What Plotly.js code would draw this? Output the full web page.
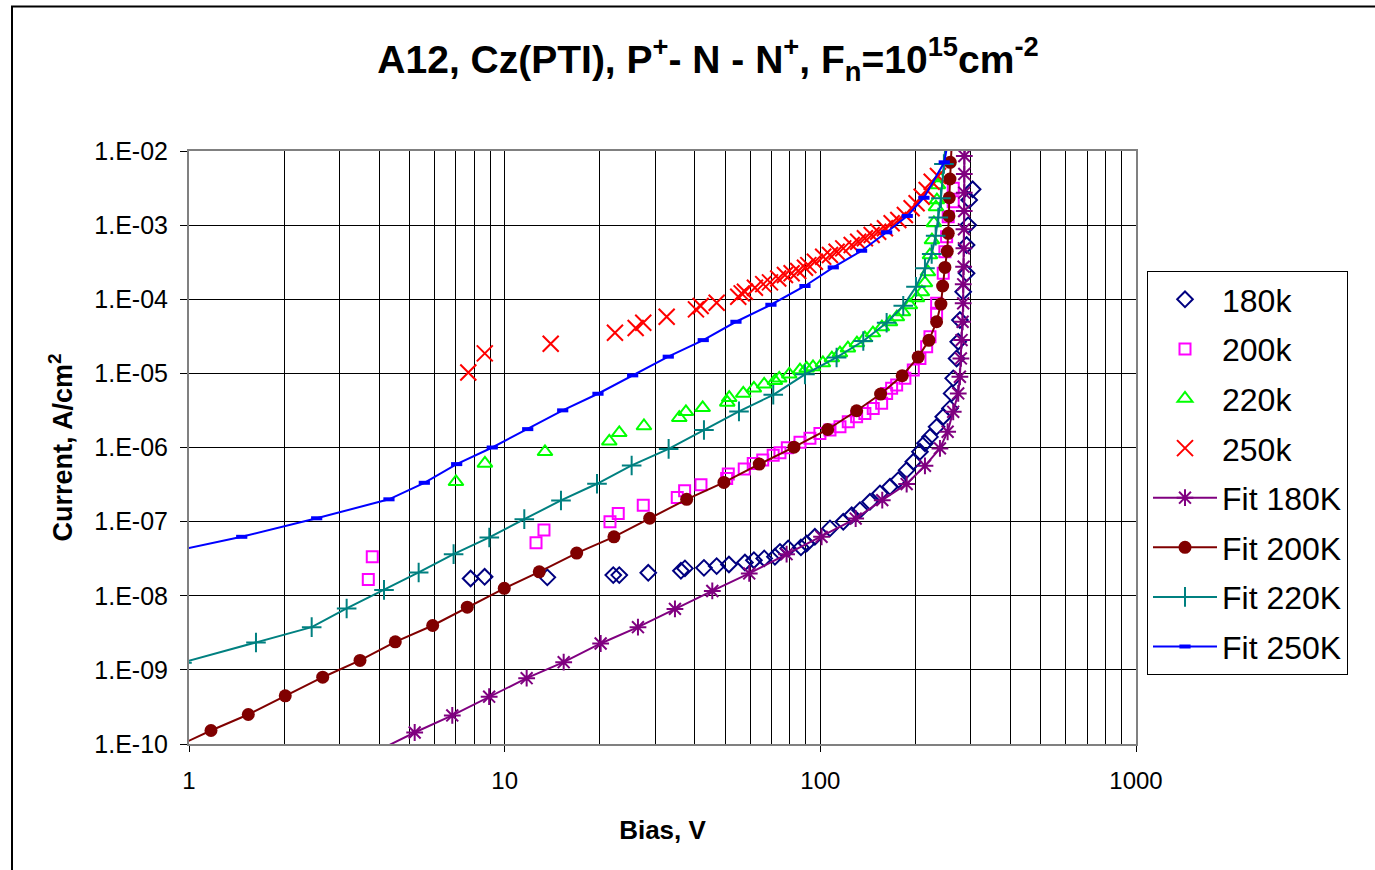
<!DOCTYPE html>
<html>
<head>
<meta charset="utf-8">
<script src="https://cdn.plot.ly/plotly-3.0.1.min.js"></script>
<style>html,body{margin:0;padding:0;background:#fff;}#chart{width:1375px;height:870px;}</style>
</head>
<body>
<div id="chart"></div>
<script>
// ---- measured data: 180k (diamonds) ----
const v180 = [7.80,8.64,13.65,22.08,23.07,28.5,36.17,37.25,42.79,46.94,51.35,57.7,61.6,66.4,71.8,74.5,79.1,86.8,90.5,96.1,107.3,118.2,125.7,133.5,143.6,154.5,166.2,176.6,187.7,197.0,206.8,214.5,222.5,233.5,245.1,257.4,260.6,263.6,270.2,273.4,276.8,283.5,290.6,290.6,294.1,296.2,303.7];
const i180 = [1.71e-8,1.80e-8,1.77e-8,1.90e-8,1.90e-8,2.04e-8,2.17e-8,2.34e-8,2.38e-8,2.51e-8,2.64e-8,2.81e-8,3.02e-8,3.19e-8,3.35e-8,3.91e-8,4.35e-8,4.49e-8,5.08e-8,6.24e-8,8.1e-8,9.94e-8,1.22e-7,1.43e-7,1.85e-7,2.40e-7,2.95e-7,3.63e-7,4.95e-7,6.41e-7,8.75e-7,1.14e-6,1.39e-6,1.90e-6,2.60e-6,3.37e-6,5.37e-6,8.57e-6,1.59e-5,2.67e-5,5.24e-5,1.26e-4,2.24e-4,5.39e-4,1.0e-3,2.18e-3,3.04e-3];

// ---- 200k (squares) ----
const v200 = [3.698,3.807,12.57,13.32,21.56,22.9,27.48,35.22,37.16,41.87,50.5,51.1,57.4,61.3,65.7,70.9,74.5,78.6,86.2,92.7,99.7,107.3,115.4,122.6,130.3,138.4,147.1,156.4,162.2,168.2,174.5,185.3,197.0,206.8,217.2,222.5,233.5,233.6,245.1,248.1,251.2,254.2,263.6,263.7];
const i200 = [1.66e-8,3.35e-8,5.18e-8,7.68e-8,9.94e-8,1.29e-7,1.66e-7,2.12e-7,2.61e-7,3.14e-7,3.83e-7,4.38e-7,5.11e-7,6.10e-7,6.76e-7,7.89e-7,8.48e-7,9.91e-7,1.18e-6,1.33e-6,1.55e-6,1.72e-6,1.90e-6,2.22e-6,2.60e-6,2.88e-6,3.37e-6,3.94e-6,5.37e-6,6.28e-6,6.95e-6,8.57e-6,1.11e-5,1.59e-5,2.29e-5,3.12e-5,6.45e-5,8.81e-5,2.24e-4,4.38e-4,6.97e-4,1.30e-3,2.07e-3,3.14e-3];

// ---- 220k (triangles) ----
const v220 = [7.01,8.66,13.42,21.45,23.07,27.62,35.74,37.52,42.39,50.72,51.45,57.0,61.6,66.4,71.8,74.1,79.7,86.2,90.5,94.8,101.9,108.8,115.4,122.3,130.6,138.4,146.8,156.7,166.2,174.8,182.7,192.2,202.3,209.8,214.5,219.2,222.5,225.7,229.0,232.4,234.1,235.8,239.3];
const i220 = [3.44e-7,6.10e-7,8.75e-7,1.21e-6,1.58e-6,1.95e-6,2.52e-6,3.03e-6,3.43e-6,4.06e-6,4.69e-6,5.37e-6,6.28e-6,7.11e-6,7.94e-6,8.57e-6,9.7e-6,1.11e-5,1.17e-5,1.22e-5,1.38e-5,1.61e-5,1.88e-5,2.19e-5,2.56e-5,2.99e-5,3.50e-5,4.22e-5,4.92e-5,5.75e-5,6.72e-5,8.35e-5,1.04e-4,1.25e-4,1.66e-4,2.33e-4,3.95e-4,6.29e-4,1.07e-3,1.75e-3,2.18e-3,3.48e-3,4.32e-3];

// ---- 250k (crosses) ----
const v250 = [7.67,8.65,13.99,22.36,26.0,27.48,32.6,40.36,41.77,46.94,54.95,56.33,57.7,62.06,65.94,69.26,73.56,77.25,81.1,85.1,89.4,91.6,96.1,102.1,107.3,112.6,118.2,125.7,131.8,138.4,145.4,152.5,160.2,168.2,176.6,185.3,194.6,201.8,209.4,217.2,225.3,235.8];
const i250 = [1.03e-5,1.86e-5,2.51e-5,3.53e-5,4.09e-5,4.82e-5,5.81e-5,7.31e-5,8.1e-5,8.97e-5,1.08e-4,1.20e-4,1.26e-4,1.43e-4,1.60e-4,1.69e-4,1.91e-4,2.12e-4,2.24e-4,2.40e-4,2.66e-4,2.89e-4,3.21e-4,3.75e-4,3.95e-4,4.38e-4,4.86e-4,5.39e-4,5.97e-4,6.64e-4,7.35e-4,8.15e-4,9.06e-4,1.06e-3,1.17e-3,1.37e-3,1.69e-3,1.97e-3,2.42e-3,2.98e-3,3.85e-3,4.6e-3];

// ---- fit curves ----
const vFit180 = [3.836,5.187,6.824,8.93,11.74,15.38,20.14,26.44,34.63,45.47,59.54,78.19,100.9,129.4,157.1,187.7,214.5,239.3,253.1,263.6,273.4,276.8,278.8,280.2,282.3,283.5,283.6,284.4,285.0,285.1,285.6,285.7,285.8,285.9,289];
const iFit180 = [7.59e-11,1.43e-10,2.43e-10,4.35e-10,7.73e-10,1.27e-9,2.27e-9,3.77e-9,6.65e-9,1.16e-8,2.0e-8,3.64e-8,6.24e-8,1.10e-7,1.95e-7,3.21e-7,5.66e-7,9.73e-7,1.63e-6,3.03e-6,5.37e-6,9.0e-6,1.59e-5,2.81e-5,4.97e-5,8.81e-5,1.59e-4,2.75e-4,4.86e-4,8.77e-4,1.55e-3,2.74e-3,4.89e-3,8.56e-3,1.4e-2];

const vFit200 = [0.95,1.174,1.541,2.018,2.652,3.481,4.503,5.915,7.613,9.97,12.87,16.91,22.19,28.8,37.72,49.5,64.04,82.48,105.5,130.3,155.2,181.7,204.2,220.8,233.5,241.0,244.0,248.1,252.4,254.2,255.5,256.1,257.4,258.0,261];
const iFit200 = [1.0e-10,1.52e-10,2.50e-10,4.46e-10,7.96e-10,1.34e-9,2.39e-9,3.97e-9,7.02e-9,1.26e-8,2.10e-8,3.76e-8,6.24e-8,1.11e-7,2.0e-7,3.38e-7,5.97e-7,1.01e-6,1.75e-6,3.13e-6,5.26e-6,9.29e-6,1.66e-5,2.79e-5,4.97e-5,8.61e-5,1.51e-4,2.69e-4,4.43e-4,7.75e-4,1.33e-3,2.34e-3,4.19e-3,7.04e-3,1.4e-2];

const vFit220 = [0.95,1.630,2.447,3.158,4.147,5.34,6.89,8.94,11.54,15.08,19.61,25.25,33.07,42.79,55.24,70.93,89.39,112.6,136.8,162.2,183.1,200.9,214.5,225.3,231.9,236.4,241.0,246.3,250];
const iFit220 = [1.25e-9,2.34e-9,3.77e-9,6.74e-9,1.20e-8,2.06e-8,3.64e-8,6.12e-8,1.08e-7,1.93e-7,3.24e-7,5.73e-7,9.57e-7,1.72e-6,3.07e-6,5.14e-6,9.7e-6,1.64e-5,2.73e-5,4.82e-5,8.17e-5,1.47e-4,2.61e-4,4.07e-4,7.19e-4,1.27e-3,2.30e-3,6.68e-3,1.4e-2];

const vFit250 = [0.95,1.469,2.538,4.30,5.565,7.046,9.135,11.83,15.27,19.75,25.44,32.98,42.57,54.04,69.74,89.39,109.9,135.1,162.2,188.5,212.9,246.9,258];
const iFit250 = [4.2e-8,6.24e-8,1.11e-7,2.0e-7,3.34e-7,5.97e-7,1.0e-6,1.77e-6,3.17e-6,5.31e-6,9.4e-6,1.68e-5,2.81e-5,4.97e-5,8.43e-5,1.51e-4,2.69e-4,4.51e-4,8.0e-4,1.33e-3,2.34e-3,7.04e-3,2.0e-2];

// ---- axis tick labels ----
const yTickVals = [1e-10,1e-9,1e-8,1e-7,1e-6,1e-5,1e-4,1e-3,1e-2];
const yTickText = ["1.E-10","1.E-09","1.E-08","1.E-07","1.E-06","1.E-05","1.E-04","1.E-03","1.E-02"];
const xTickVals = [1,10,100,1000];
const xTickText = ["1","10","100","1000"];

const minorX = [];
for (let d = 1; d <= 100; d *= 10) for (let k = 2; k <= 9; k++) minorX.push(k * d);

const F = "Arial, 'Liberation Sans', sans-serif";

function pts(name, x, y, marker) {
  return {type:'scatter', mode:'markers', name:name, x:x, y:y, marker:marker, legendgroup:name};
}
function fit(name, x, y, color, marker) {
  return {type:'scatter', mode:'lines+markers', name:name, x:x, y:y,
          line:{color:color, width:2}, marker:marker, legendgroup:name};
}

const traces = [
  pts('180k', v180, i180, {symbol:'diamond-open', size:12, color:'#000080', line:{width:2, color:'#000080'}}),
  pts('200k', v200, i200, {symbol:'square-open', size:11, color:'#FF00FF', line:{width:2, color:'#FF00FF'}}),
  pts('220k', v220, i220, {symbol:'triangle-up-open', size:13, color:'#00FF00', line:{width:2, color:'#00FF00'}}),
  pts('250k', v250, i250, {symbol:'x-thin-open', size:16, color:'#FF0000', line:{width:2, color:'#FF0000'}}),
  fit('Fit 180K', vFit180, iFit180, '#800080', {symbol:'asterisk-open', size:14, color:'#800080', line:{width:2, color:'#800080'}}),
  fit('Fit 200K', vFit200, iFit200, '#800000', {symbol:'circle', size:13, color:'#800000'}),
  fit('Fit 220K', vFit220, iFit220, '#008080', {symbol:'cross-thin-open', size:14, color:'#008080', line:{width:2, color:'#008080'}}),
  fit('Fit 250K', vFit250, iFit250, '#0000FF', {symbol:'line-ew-open', size:8, color:'#0000FF', line:{width:4, color:'#0000FF'}})
];

const L = 189, R = 1136, T = 151, B = 744;
const pw = R - L, ph = B - T;
function px2x(p){ return (p - L) / pw; }
function py2y(p){ return (B - p) / ph; }

const layout = {
  width:1375, height:870,
  margin:{l:L, r:1375-R, t:T, b:870-B, pad:0},
  paper_bgcolor:'#fff', plot_bgcolor:'#fff',
  font:{family:F, color:'#000'},
  showlegend:true,
  title:{text:'<b>A12, Cz(PTI), P<sup>+</sup>- N - N<sup>+</sup>, F<sub>n</sub>=10<sup>15</sup>cm<sup>-2</sup></b>',
         font:{family:F, size:39, color:'#000'}, x:708/1375, xanchor:'center', xref:'container',
         y:1-59/870, yanchor:'middle', yref:'container'},
  xaxis:{type:'log', range:[0,3], tickmode:'array', tickvals:xTickVals, ticktext:xTickText,
         tickfont:{family:F, size:24}, ticks:'outside', ticklen:6, tickcolor:'#000', tickwidth:1,
         showgrid:true, gridcolor:'#000', gridwidth:1,
         minor:{tickmode:'array', tickvals:minorX, showgrid:true, gridcolor:'#000', gridwidth:1, ticks:''},
         showline:true, linecolor:'#808080', linewidth:2, mirror:true, zeroline:false,
         ticklabelstandoff:8,
         title:{text:'<b>Bias, V</b>', font:{family:F, size:26}, standoff:28}},
  yaxis:{type:'log', range:[-10,-2], tickmode:'array', tickvals:yTickVals, ticktext:yTickText,
         tickfont:{family:F, size:25}, ticks:'outside', ticklen:7, tickcolor:'#000', tickwidth:1,
         showgrid:true, gridcolor:'#000', gridwidth:1,
         showline:true, linecolor:'#808080', linewidth:2, mirror:true, zeroline:false,
         ticklabelstandoff:7,
         title:{text:'<b>Current, A/cm<sup>2</sup></b>', font:{family:F, size:27}, standoff:14}},
  legend:{x:px2x(1147), xanchor:'left', y:py2y(271), yanchor:'top',
          bgcolor:'#fff', bordercolor:'#000', borderwidth:1,
          font:{family:F, size:32, color:'#000'}, traceorder:'grouped', tracegroupgap:5,
          itemwidth:64, itemsizing:'trace'},
  shapes:[{type:'rect', xref:'paper', yref:'paper', x0:px2x(12), x1:px2x(1390), y0:py2y(6.5), y1:py2y(880),
           line:{color:'#000', width:2}, fillcolor:'rgba(0,0,0,0)', layer:'below'}]
};

Plotly.newPlot('chart', traces, layout, {displayModeBar:false, staticPlot:true});
</script>
</body>
</html>
